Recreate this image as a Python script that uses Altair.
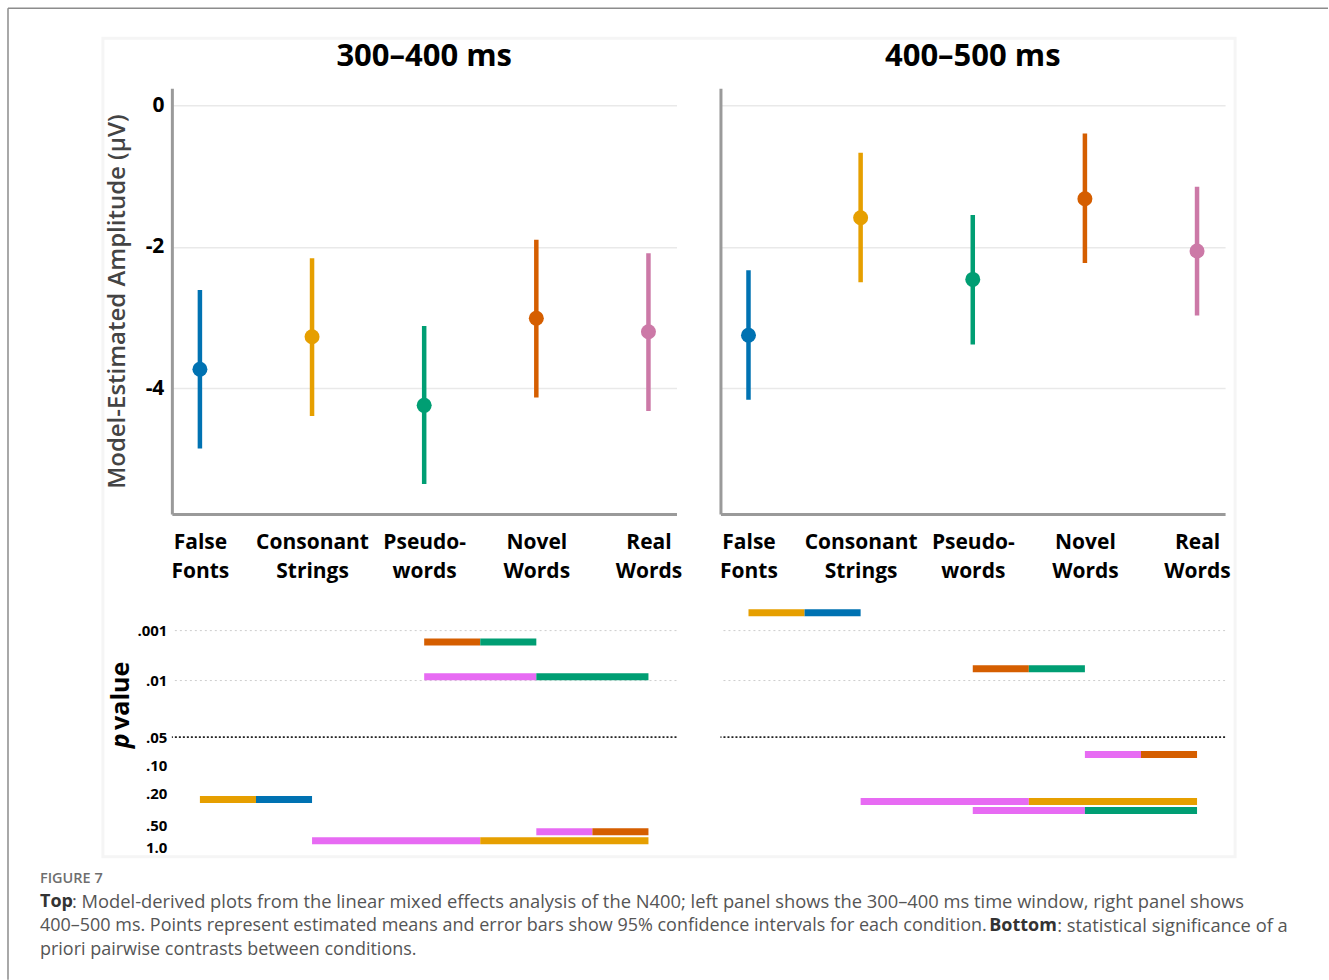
import altair as alt
import pandas as pd

FONT = "Open Sans"
AXIS_GRAY = "#9a9a9a"

# ---------------- data ----------------
categories = ["False Fonts", "Consonant Strings", "Pseudowords", "Novel Words", "Real Words"]
label_lines = [["False", "Fonts"], ["Consonant", "Strings"], ["Pseudo-", "words"], ["Novel", "Words"], ["Real", "Words"]]
point_colors = ["#0072B2", "#E69F00", "#009E73", "#D55E00", "#CC79A7"]
bar_colors = ["#0072B2", "#E69F00", "#009E73", "#D55E00", "#E76BF3"]

window_titles = ["300–400 ms", "400–500 ms"]

est_300 = [-3.73, -3.27, -4.24, -3.01, -3.20]
lo_300 = [-4.85, -4.39, -5.35, -4.13, -4.32]
hi_300 = [-2.61, -2.16, -3.12, -1.90, -2.09]

est_400 = [-3.25, -1.59, -2.46, -1.32, -2.06]
lo_400 = [-4.16, -2.50, -3.38, -2.23, -2.97]
hi_400 = [-2.33, -0.67, -1.55, -0.40, -1.15]

amp_ticks = [0, -2, -4]
amp_title = "Model-Estimated Amplitude (µV)"

# pairwise contrasts (first condition, second condition, p value)
con_a_300 = ["False Fonts", "Pseudowords", "Pseudowords", "Novel Words", "Consonant Strings"]
con_b_300 = ["Consonant Strings", "Novel Words", "Real Words", "Real Words", "Real Words"]
con_p_300 = [0.24, 0.0017, 0.0084, 0.62, 0.82]

con_a_400 = ["False Fonts", "Pseudowords", "Novel Words", "Consonant Strings", "Pseudowords"]
con_b_400 = ["Consonant Strings", "Novel Words", "Real Words", "Real Words", "Real Words"]
con_p_400 = [0.00044, 0.0058, 0.076, 0.254, 0.33]

p_ticks = [0.001, 0.01, 0.05, 0.10, 0.20, 0.50, 1.0]
p_tick_labels = [".001", ".01", ".05", ".10", ".20", ".50", "1.0"]
p_light_lines = [0.001, 0.01]
p_alpha_line = [0.05]
p_title_parts = ["p", "value"]

caption_label = "FIGURE 7"
caption_top_bold = "Top"
caption_line1 = ": Model-derived plots from the linear mixed effects analysis of the N400; left panel shows the 300–400 ms time window, right panel shows"
caption_line2a = "400–500 ms. Points represent estimated means and error bars show 95% confidence intervals for each condition."
caption_bottom_bold = "Bottom"
caption_line2b = ": statistical significance of a"
caption_line3 = "priori pairwise contrasts between conditions."

# ---------------- scales ----------------
x_scale = alt.Scale(domain=[-0.25, 4.25], nice=False, zero=False)
amp_scale = alt.Scale(domain=[-5.775, 0.24], nice=False, zero=False)
p_scale = alt.Scale(type="log", domain=[0.0002] + p_ticks,
                    range=[71.75, 106.7, 156.7, 213.3, 242, 269.3, 301.3, 323.3],
                    nice=False, zero=False)

x_label_expr = "[" + ",".join("[" + ",".join("'%s'" % w for w in ln) + "]" for ln in label_lines) + "][datum.value]"
p_label_expr = " : ".join("abs(datum.value - %r) < %r ? '%s'" % (v, v * 0.01, l)
                          for v, l in zip(p_ticks, p_tick_labels)) + " : ''"


def one_text(txt, x, y, size, weight="normal", color="black", align="left",
             baseline="middle", angle=0, style="normal", font=FONT):
    return alt.Chart(pd.DataFrame({"t": [txt]})).mark_text(
        font=font, fontSize=size, fontWeight=weight, fontStyle=style, color=color,
        align=align, baseline=baseline, angle=angle,
    ).encode(text="t:N", x=alt.value(x), y=alt.value(y))


def top_panel(title, est, lo, hi, first):
    df = pd.DataFrame({"condition": categories, "idx": list(range(len(categories))),
                       "est": est, "lo": lo, "hi": hi})
    x_axis = alt.Axis(values=list(range(len(categories))), labelExpr=x_label_expr, title="",
                      grid=False, ticks=False, domainColor=AXIS_GRAY, domainWidth=3,
                      labelFont=FONT, labelFontSize=21, labelFontWeight="bold", labelColor="black",
                      labelPadding=18, labelLineHeight=29, labelOverlap=False, labelFlush=False,
                      labelBaseline="top")
    if first:
        y_axis = alt.Axis(values=amp_ticks, labelExpr="toString(datum.value)", title=amp_title,
                          ticks=False, domainColor=AXIS_GRAY, domainWidth=3,
                          grid=True, gridColor="#e9e9e9", gridWidth=1.5,
                          labelFont=FONT, labelFontSize=21, labelFontWeight="bold", labelColor="black",
                          labelPadding=8, labelOverlap=False, labelFlush=False,
                          titleFont=FONT, titleFontSize=24, titleFontWeight=600, titleColor="#444444",
                          titleX=-54, titleY=213, titleAngle=270, titleAlign="center",
                          titleBaseline="middle")
    else:
        y_axis = alt.Axis(values=amp_ticks, labels=False, title="", ticks=False,
                          domainColor=AXIS_GRAY, domainWidth=3,
                          grid=True, gridColor="#e9e9e9", gridWidth=1.5)
    color = alt.Color("condition:N", scale=alt.Scale(domain=categories, range=point_colors), legend=None)
    bars = alt.Chart(df).mark_rule(strokeWidth=4.5).encode(
        x=alt.X("idx:Q", scale=x_scale, axis=x_axis),
        y=alt.Y("lo:Q", scale=amp_scale, axis=y_axis),
        y2="hi:Q",
        color=color,
    )
    pts = alt.Chart(df).mark_circle(size=225, opacity=1).encode(
        x=alt.X("idx:Q", scale=x_scale, axis=x_axis),
        y=alt.Y("est:Q", scale=amp_scale, axis=y_axis),
        color=color,
    )
    head = one_text(title, 252.5, -22, 31, weight="bold", align="center", baseline="alphabetic")
    layers = [bars, pts, head]
    if first:
        frame_bg = alt.Chart(pd.DataFrame({"k": [0]})).mark_rect(
            fillOpacity=0, stroke="#f5f5f5", strokeWidth=3).encode(
            x=alt.value(-69), x2=alt.value(1064), y=alt.value(-50), y2=alt.value(769))
        layers = [frame_bg] + layers
    return alt.layer(*layers).properties(width=505, height=426)


def bottom_panel(a_list, b_list, p_list, first):
    rows = []
    for a, b, p in zip(a_list, b_list, p_list):
        ia, ib = categories.index(a), categories.index(b)
        lo_i, hi_i = min(ia, ib), max(ia, ib)
        mid = (lo_i + hi_i) / 2
        rows.append({"x1": lo_i, "x2": mid, "p": p, "condition": categories[hi_i]})
        rows.append({"x1": mid, "x2": hi_i, "p": p, "condition": categories[lo_i]})
    df = pd.DataFrame(rows)
    if first:
        y_axis = alt.Axis(values=p_ticks, labelExpr=p_label_expr, title="", ticks=False,
                          domain=False, grid=False, labelFont=FONT, labelFontSize=15,
                          labelFontWeight="bold", labelColor="black", labelPadding=5,
                          labelOverlap=False, labelFlush=False)
    else:
        y_axis = None
    light = alt.Chart(pd.DataFrame({"p": p_light_lines})).mark_rule(
        color="#cdcdcd", strokeDash=[2, 3], strokeWidth=1).encode(
        y=alt.Y("p:Q", scale=p_scale, axis=y_axis))
    alpha = alt.Chart(pd.DataFrame({"p": p_alpha_line})).mark_rule(
        color="#222222", strokeDash=[2, 2], strokeWidth=1.6).encode(
        y=alt.Y("p:Q", scale=p_scale, axis=y_axis))
    segs = alt.Chart(df).mark_rule(strokeWidth=7).encode(
        x=alt.X("x1:Q", scale=x_scale, axis=None),
        x2="x2:Q",
        y=alt.Y("p:Q", scale=p_scale, axis=y_axis),
        color=alt.Color("condition:N", scale=alt.Scale(domain=categories, range=bar_colors), legend=None),
    )
    layers = [light, alpha, segs]
    if first:
        # y-axis title "p value" with italic p
        layers += [
            one_text(p_title_parts[1], -51, 172, 25, weight="bold", align="center", angle=270),
            one_text(p_title_parts[0], -51, 217, 25, weight="bold", align="center", angle=270, style="italic"),
        ]
        # figure frame and caption (positions relative to this panel)
        frame_left = alt.Chart(pd.DataFrame({"k": [0]})).mark_rule(color="#8c8c8c", strokeWidth=1.5).encode(
            x=alt.value(-164), y=alt.value(-516), y2=alt.value(456))
        frame_top = alt.Chart(pd.DataFrame({"k": [0]})).mark_rule(color="#8c8c8c", strokeWidth=1.5).encode(
            x=alt.value(-164), x2=alt.value(1157), y=alt.value(-516))
        cap_size = 18
        layers += [
            frame_left, frame_top,
            one_text(caption_label, -132, 355, 14.5, weight=600, color="#6e6e6e"),
            one_text(caption_top_bold, -132, 378, cap_size, weight="bold", color="#333333"),
            one_text(caption_line1, -100, 378, 18.35, color="#555555"),
            one_text(caption_line2a, -132, 402, cap_size, color="#555555"),
            one_text(caption_bottom_bold, 818, 402, cap_size, weight="bold", color="#333333"),
            one_text(caption_line2b, 886, 402, 18.35, color="#555555"),
            one_text(caption_line3, -132, 426, cap_size, color="#555555"),
        ]
    return alt.layer(*layers).properties(width=505, height=328)


chart = alt.concat(
    top_panel(window_titles[0], est_300, lo_300, hi_300, True),
    top_panel(window_titles[1], est_400, lo_400, hi_400, False),
    bottom_panel(con_a_300, con_b_300, con_p_300, True),
    bottom_panel(con_a_400, con_b_400, con_p_400, False),
    columns=2, spacing={"row": 10, "column": 44}, bounds="flush", align="each",
).resolve_scale(
    x="independent", y="independent", color="independent"
).properties(
    padding={"left": 7, "top": 7, "right": 0, "bottom": 0},
    background="white",
).configure_view(strokeWidth=0)

chart.save("out.html", embed_options={"renderer": "svg", "actions": False})
